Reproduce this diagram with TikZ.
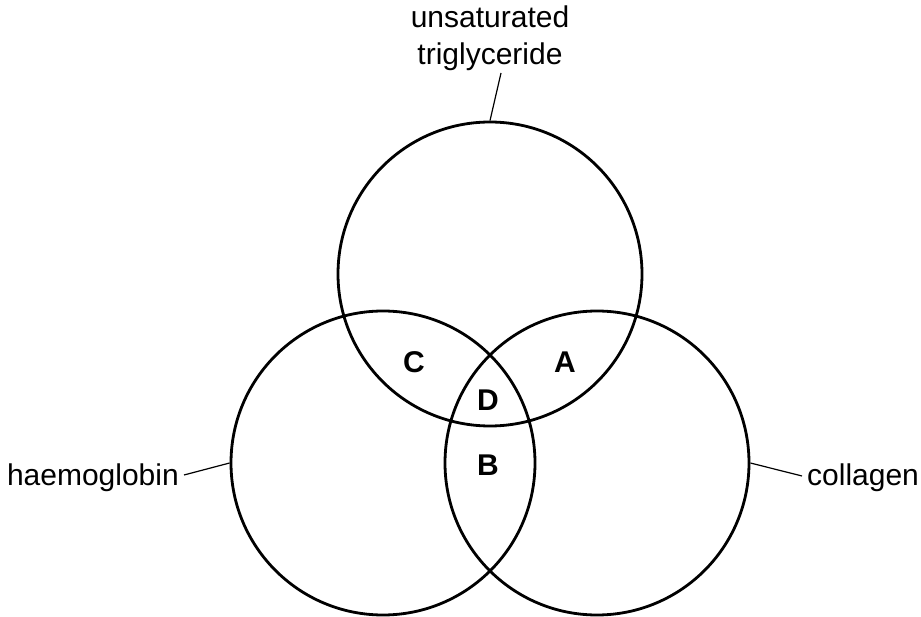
\documentclass[tikz,border=0pt]{standalone}
\usepackage{fontspec}
\setmainfont{Liberation Sans}
\begin{document}
\begin{tikzpicture}[x=1pt,y=-1pt,
  venn/.style={circle,draw,line width=2.8pt,minimum size=304pt,inner sep=0pt},
  leader/.style={line width=1.2pt},
  lab/.style={font=\fontsize{30}{37}\selectfont,inner sep=0pt},
  region/.style={font=\fontsize{30}{32}\selectfont\bfseries,inner sep=0pt}]
\useasboundingbox (0,0) rectangle (921,617);
\node[venn] (top) at (490,274) {};
\node[venn] (left) at (383,463) {};
\node[venn] (right) at (597,463) {};
\node[lab,align=center,anchor=south] (tlab) at (490,71) {unsaturated\\triglyceride};
\node[lab,anchor=base east] (hlab) at (179,485) {haemoglobin};
\node[lab,anchor=base west] (clab) at (807,485) {collagen};
\coordinate (tl) at (501,73);
\coordinate (hl) at (184,475);
\coordinate (cl) at (802,476);
\draw[leader] (tl) -- (top.north);
\draw[leader] (hl) -- (left.west);
\draw[leader] (cl) -- (right.east);
\node[region] (A) at (565,362) {A};
\node[region] (B) at (488,465) {B};
\node[region] (C) at (414,362) {C};
\node[region] (D) at (488,400) {D};
\end{tikzpicture}
\end{document}
